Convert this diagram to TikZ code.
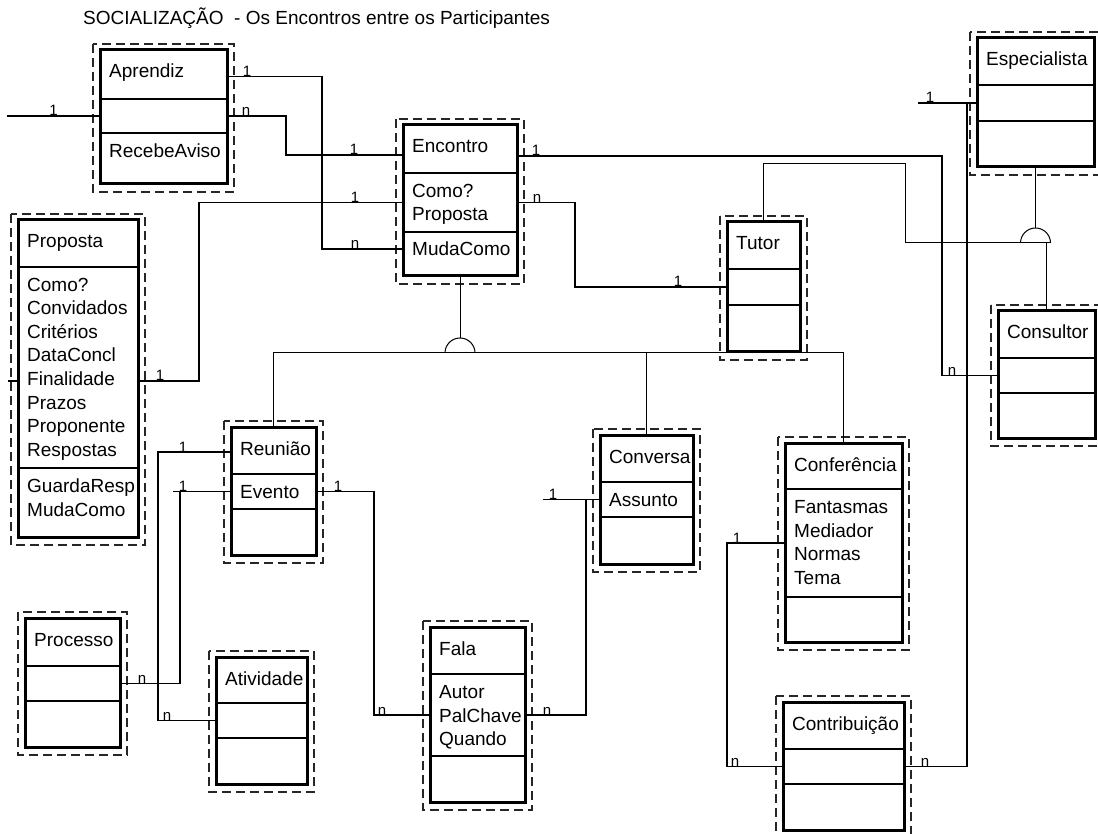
\documentclass[tikz,border=0pt]{standalone}
\usepackage{fontspec}
\setmainfont{Liberation Sans}
\usetikzlibrary{fit}

\tikzset{
  x=1pt, y=-1pt,
  outerbox/.style={draw=black!85, line width=1.1pt, dash pattern=on 9pt off 5pt},
  classbody/.style={draw, line width=3pt, inner sep=0pt, outer sep=0pt},
  part/.style={inner sep=0pt, outer sep=0pt},
  divider/.style={line width=2.2pt},
  txt/.style={inner sep=0pt, font=\fontsize{19pt}{23.5pt}\selectfont},
  mult/.style={inner sep=0.3pt, anchor=base, font=\fontsize{15pt}{15pt}\selectfont},
  assoc/.style={line width=1.6pt},
  isa/.style={line width=1pt},
}

% class box: id, left, top, right, bottom, first divider, second divider, name
\newcommand{\umlclass}[8]{%
  \draw[outerbox] (#2-7,#3-6) rectangle (#4+7,#5+8);
  \node[classbody, fit={(#2,#3) (#4,#5)}] (#1) {};
  \node[part, fit={(#2,#3) (#4,#6)}] (#1-n) {};
  \node[part, fit={(#2,#6) (#4,#7)}] (#1-a) {};
  \node[part, fit={(#2,#7) (#4,#5)}] (#1-o) {};
  \draw[divider] (#1-a.north west) -- (#1-a.north east);
  \draw[divider] (#1-o.north west) -- (#1-o.north east);
  \node[txt, anchor=base west] (#1-t) at (#2+9,#3+28) {#8};
}
% lines of a compartment: name prefix, x, first baseline, list
\newcommand{\umllines}[4]{%
  \foreach \t [count=\i] in {#4} {%
    \node[txt, anchor=base west] (#1\i) at (#2, {#3+(\i-1)*23.5}) {\t};}}

\begin{document}
\begin{tikzpicture}
\useasboundingbox (0,0) rectangle (1098,834);
\fill[white] (0,0) rectangle (1098,834);

\node[txt, anchor=base west] (title) at (83,25) {SOCIALIZAÇÃO\ \ - Os Encontros entre os Participantes};

% classes
\umlclass{apr}{100}{50}{227}{184}{99}{133}{Aprendiz}
\umllines{apr-op}{109}{157.5}{RecebeAviso}

\umlclass{enc}{403}{125}{517}{276}{173}{232}{Encontro}
\umllines{enc-at}{412}{197.5}{Como?,Proposta}
\umllines{enc-op}{412}{255.5}{MudaComo}

\umlclass{pro}{18}{220}{138}{537}{267}{468}{Proposta}
\umllines{pro-at}{27}{291.5}{Como?,Convidados,Critérios,DataConcl,Finalidade,Prazos,Proponente,Respostas}
\umllines{pro-op}{27}{492.5}{GuardaResp,MudaComo}

\umlclass{esp}{977}{38}{1094}{167}{85}{121}{Especialista}
\umlclass{tut}{727}{222}{800}{352}{269}{305}{Tutor}
\umlclass{cst}{998}{311}{1095}{438}{358}{393}{Consultor}

\umlclass{reu}{231}{427}{316}{555}{474}{509}{Reunião}
\umllines{reu-at}{240}{498.5}{Evento}

\umlclass{cvs}{600}{435}{693}{564}{482}{517}{Conversa}
\umllines{cvs-at}{609}{506.5}{Assunto}

\umlclass{cnf}{785}{443}{902}{642}{489}{597}{Conferência}
\umllines{cnf-at}{794}{513.5}{Fantasmas,Mediador,Normas,Tema}

\umlclass{prc}{25}{618}{120}{747}{666}{701}{Processo}
\umlclass{atv}{216}{657}{307}{784}{703}{738}{Atividade}

\umlclass{fal}{430}{627}{525}{802}{674}{756}{Fala}
\umllines{fal-at}{439}{698.5}{Autor,PalChave,Quando}

\umlclass{ctb}{783}{702}{904}{830}{749}{784}{Contribuição}

% associations
\coordinate (leftend) at (apr-a.west -| 7,0);
\draw[assoc] (leftend) -- node[mult]{1} (apr-a.west);

\draw[assoc] ([yshift=-2pt]apr-n.east) -- node[mult,pos=0,xshift=20pt]{1} ++(95,0)
  |- node[mult,pos=1,xshift=-48pt]{n} ([yshift=5pt]enc-o.west);
\draw[assoc] (apr-a.east) -- node[mult,pos=0,xshift=19pt]{n} ++(59,0)
  |- node[mult,pos=1,xshift=-49pt]{1} ([yshift=-6pt]enc-n.west);

\draw[assoc] ([yshift=-13.5pt]pro-a.east) -- node[mult,pos=0,xshift=22pt]{1} ++(61,0)
  |- node[mult,pos=1,xshift=-48pt]{1} (enc-a.west);
\draw[assoc] ([yshift=-13.5pt]pro-a.west) -- ++(-10,0);

\draw[assoc] ([yshift=-7pt]enc-n.east) -- node[mult,pos=0,xshift=19pt]{1} ++(425,0)
  |- node[mult,pos=1,xshift=-46pt]{n} (cst-a.west);
\draw[assoc] (enc-a.east) -- node[mult,pos=0,xshift=20pt]{n} ++(58,0)
  |- node[mult,pos=1,xshift=-49pt]{1} (tut-a.west);

\draw[assoc] (esp-a.west) -- node[mult,pos=0,xshift=-47pt]{1} ++(-59,0);
\draw[assoc] (esp-a.west) ++(-10,0) |- node[mult,pos=1,xshift=21pt]{n} (ctb-a.east);

\draw[assoc] (cnf-a.west) -- node[mult,pos=0,xshift=-48pt]{1} ++(-58,0)
  |- node[mult,pos=1,xshift=-48pt]{n} (ctb-a.west);

\draw[assoc] (cvs-a.west) -- node[mult,pos=0,xshift=-47pt]{1} ++(-57,0);
\draw[assoc] (cvs-a.west) ++(-14,0) |- node[mult,pos=1,xshift=22pt]{n} (fal-a.east);

\draw[assoc] ([yshift=-1.5pt]reu-n.west) -- node[mult,pos=0,xshift=-48pt]{1} ++(-73,0)
  |- node[mult,pos=1,xshift=-49pt]{n} (atv-a.west);
\draw[assoc] (reu-a.west) -- node[mult,pos=0,xshift=-48pt]{1} ++(-58,0);
\draw[assoc] (reu-a.west) ++(-51,0) |- node[mult,pos=1,xshift=22pt]{n} (prc-a.east);
\draw[assoc] (reu-a.east) -- node[mult,pos=0,xshift=22pt]{1} ++(58,0)
  |- node[mult,pos=1,xshift=-48pt]{n} (fal-a.west);

% generalization of Encontro
\coordinate (isa1) at (enc.south |- 0,353);
\draw[isa] (enc.south) -- ([yshift=15pt]isa1);
\draw[isa] ([xshift=-15pt]isa1) arc[start angle=180, end angle=0, radius=15pt];
\draw[isa] (reu.north) -- (reu.north |- isa1) -- (cnf.north |- isa1) -- (cnf.north);
\draw[isa] (cvs.north) -- (cvs.north |- isa1);

% generalization of Especialista
\coordinate (isa2) at (esp.south |- 0,243);
\draw[isa] (esp.south) -- ([yshift=15pt]isa2);
\draw[isa] ([xshift=-15pt]isa2) arc[start angle=180, end angle=0, radius=15pt];
\draw[isa] (tut.north) |- ++(141.5,-58) |- ([xshift=15pt]isa2);
\draw[isa] (cst.north) -- (cst.north |- isa2);
\end{tikzpicture}
\end{document}
